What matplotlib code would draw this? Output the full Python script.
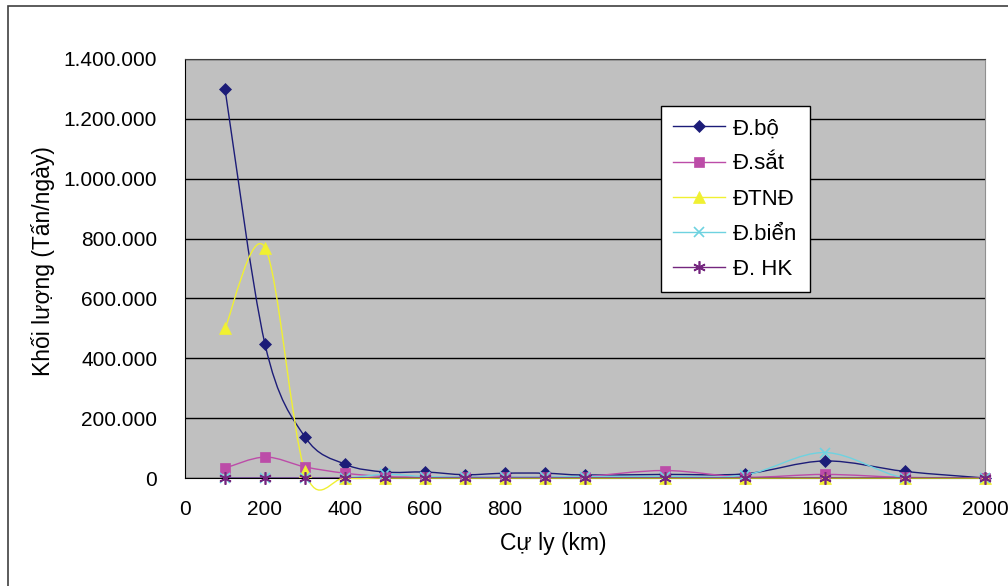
import matplotlib
matplotlib.use("Agg")
import matplotlib.pyplot as plt
import numpy as np
from matplotlib.path import Path
from matplotlib.patches import PathPatch, Rectangle
from matplotlib.lines import Line2D
from matplotlib.ticker import FuncFormatter

plt.rcParams['font.family'] = ['Liberation Sans', 'DejaVu Sans']

cu_ly = [100, 200, 300, 400, 500, 600, 700, 800, 900, 1000, 1200, 1400, 1600, 1800, 2000]
duong_bo = [1300000, 447000, 137000, 46000, 20000, 20000, 11000, 16000, 16000, 10000, 12000, 14000, 57000, 22000, 0]
duong_sat = [33000, 70000, 37000, 16000, 5000, 3000, 3000, 3000, 3000, 5000, 25000, 3000, 12000, 2000, 0]
dtnd = [500000, 770000, 22000, 0, 0, 0, 0, 0, 0, 0, 0, 0, 0, 0, 0]
duong_bien = [0, 0, 0, 0, 12000, 5000, 3000, 3000, 3000, 5000, 5000, 10000, 85000, 0, 0]
hang_khong = [0] * 15

series = [
    ("Đ.bộ", duong_bo, "#1c1c78", "D", 6.5),
    ("Đ.sắt", duong_sat, "#bc4ca8", "s", 7),
    ("ĐTNĐ", dtnd, "#f0f032", "^", 8),
    ("Đ.biển", duong_bien, "#6ed2e0", "x", 7),
    ("Đ. HK", hang_khong, "#74267e", (6, 2, 0), 9),
]


def smooth_path(xs, ys):
    # Catmull-Rom style bezier segments, like Excel's smoothed line
    pts = np.column_stack([xs, ys]).astype(float)
    verts = [pts[0]]
    codes = [Path.MOVETO]
    n = len(pts)
    for i in range(n - 1):
        p0 = pts[i - 1] if i > 0 else pts[i]
        p1 = pts[i]
        p2 = pts[i + 1]
        p3 = pts[i + 2] if i + 2 < n else pts[i + 1]
        c1 = p1 + (p2 - p0) / 6.0
        c2 = p2 - (p3 - p1) / 6.0
        verts += [c1, c2, p2]
        codes += [Path.CURVE4] * 3
    return Path(verts, codes)


fig = plt.figure(figsize=(10.08, 5.86), dpi=100)
ax = fig.add_axes([185 / 1008, 108 / 586, 800 / 1008, 419 / 586])
ax.set_facecolor("#c0c0c0")

handles = []
for name, vals, color, marker, ms in series:
    thin = marker in ("x", (6, 2, 0))
    # only the yellow curve visibly dips under the axis in the original
    ax.add_patch(PathPatch(smooth_path(cu_ly, vals), facecolor="none", edgecolor=color,
                           lw=1.0, zorder=3, clip_on=(name != "ĐTNĐ")))
    ax.plot(cu_ly, vals, linestyle="none", marker=marker, color=color, markersize=ms,
            markeredgewidth=1.2 if thin else 0.5, zorder=4, clip_on=False)
    handles.append(Line2D([], [], color=color, lw=1.0, marker=marker, markersize=ms,
                          markeredgewidth=1.2 if thin else 0.5))

ax.set_xlim(0, 2000)
ax.set_ylim(0, 1400000)
ax.set_xticks(range(0, 2001, 200))
ax.set_yticks(range(0, 1400001, 200000))
ax.yaxis.set_major_formatter(FuncFormatter(lambda v, p: "{:,.0f}".format(v).replace(",", ".")))
ax.grid(axis="y", color="black", lw=1.0)
ax.set_axisbelow(True)
ax.tick_params(axis="y", length=0, labelsize=15, pad=20)
ax.tick_params(axis="x", length=0, labelsize=15, pad=16)
for s in ("left", "bottom"):
    ax.spines[s].set_color("black")
ax.spines["right"].set_color("#909090")
ax.spines["top"].set_color("#404040")

ax.set_xlabel("Cự ly (km)", fontsize=16.5)
ax.xaxis.set_label_coords(0.46, -0.128)
ax.set_ylabel("Khối lượng (Tấn/ngày)", fontsize=16.5)
ax.yaxis.set_label_coords(-0.1625, 0.518)

leg = ax.legend(handles, [s[0] for s in series], loc="upper left",
                bbox_to_anchor=((661 - 185) / 800, (478 - 106) / 419),
                fontsize=16, frameon=True, fancybox=False, edgecolor="black",
                framealpha=1, handlelength=2.35, labelspacing=0.64, borderpad=0.55,
                handletextpad=0.35, borderaxespad=0)
leg.get_frame().set_linewidth(1.0)

fig.add_artist(Rectangle((8 / 1008, -0.1), 1.2, 1 - 6 / 586 + 0.1, transform=fig.transFigure,
                         fill=False, edgecolor="#404040", lw=1.2))

fig.savefig("out.png", dpi=100)
